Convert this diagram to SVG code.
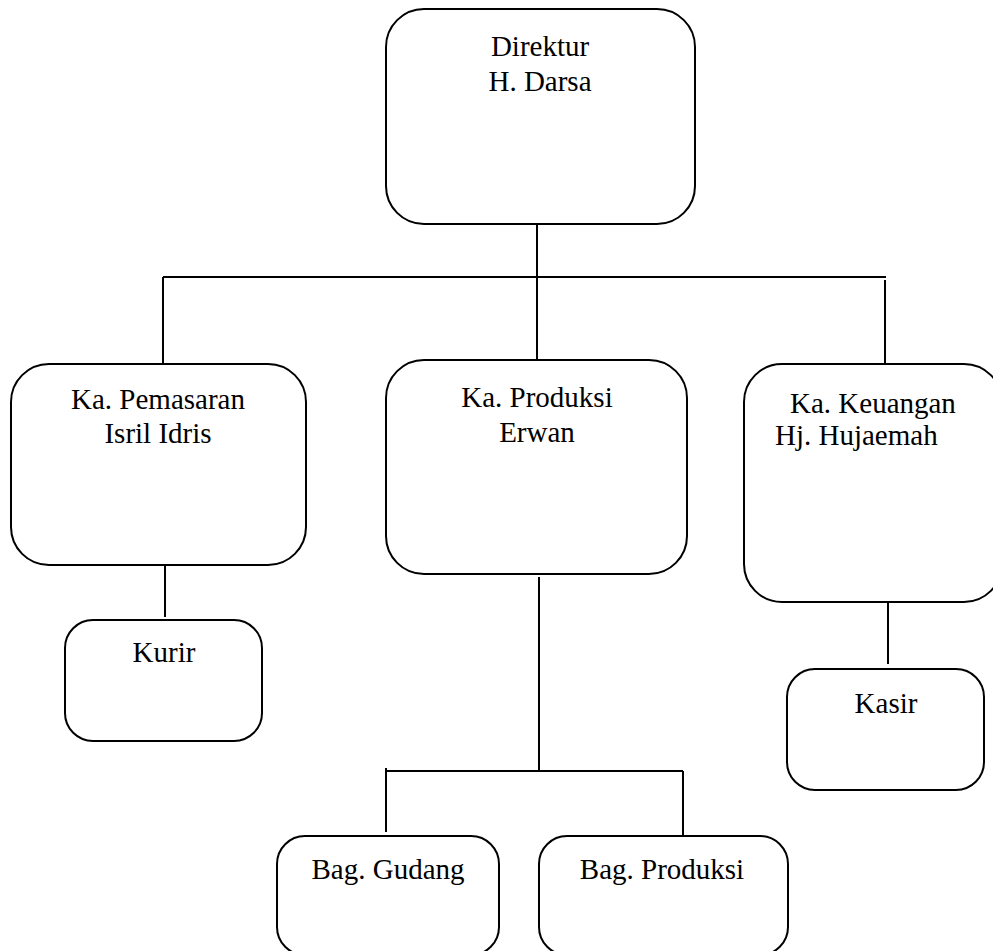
<svg xmlns="http://www.w3.org/2000/svg" width="993" height="951" viewBox="0 0 993 951">
<style>
  .box { fill: #ffffff; stroke: #000000; stroke-width: 2; }
  .lbl { font-family: "Liberation Serif", "Times New Roman", serif; font-size: 29px; fill: #000000; }
  .mid { text-anchor: middle; }
  .conn line { stroke: #000000; stroke-width: 2; }
</style>
<rect width="993" height="951" fill="#ffffff"/>
<g id="connectors" class="conn">
  <line x1="537" y1="224" x2="537" y2="365"/>
  <line x1="163" y1="277" x2="886" y2="277"/>
  <line x1="163" y1="277" x2="163" y2="364"/>
  <line x1="885" y1="280" x2="885" y2="364"/>
  <line x1="165" y1="565" x2="165" y2="617"/>
  <line x1="888" y1="602" x2="888" y2="664"/>
  <line x1="539" y1="577" x2="539" y2="771"/>
  <line x1="386" y1="771" x2="683" y2="771"/>
  <line x1="386" y1="768" x2="386" y2="832"/>
  <line x1="683" y1="771" x2="683" y2="836"/>
</g>
<g id="direktur">
  <rect class="box" x="386" y="9" width="309" height="215" rx="38" ry="38"/>
  <text class="lbl mid" x="540" y="56">Direktur</text>
  <text class="lbl mid" x="540" y="91">H. Darsa</text>
</g>
<g id="pemasaran">
  <rect class="box" x="11" y="364" width="295" height="201" rx="38" ry="38"/>
  <text class="lbl mid" x="158" y="409">Ka. Pemasaran</text>
  <text class="lbl mid" x="158" y="443">Isril Idris</text>
</g>
<g id="produksi">
  <rect class="box" x="386" y="360" width="301" height="214" rx="38" ry="38"/>
  <text class="lbl mid" x="537" y="407">Ka. Produksi</text>
  <text class="lbl mid" x="537" y="442">Erwan</text>
</g>
<g id="keuangan">
  <rect class="box" x="744" y="364" width="258" height="238" rx="38" ry="38"/>
  <text class="lbl" x="790" y="413">Ka. Keuangan</text>
  <text class="lbl" x="775" y="445">Hj. Hujaemah</text>
</g>
<g id="kurir">
  <rect class="box" x="65" y="620" width="197" height="121" rx="28" ry="28"/>
  <text class="lbl mid" x="164" y="662">Kurir</text>
</g>
<g id="kasir">
  <rect class="box" x="787" y="669" width="197" height="121" rx="28" ry="28"/>
  <text class="lbl mid" x="886" y="713">Kasir</text>
</g>
<g id="gudang">
  <rect class="box" x="277" y="836" width="222" height="119" rx="28" ry="28"/>
  <text class="lbl mid" x="388" y="879">Bag. Gudang</text>
</g>
<g id="bag-produksi">
  <rect class="box" x="539" y="836" width="249" height="119" rx="28" ry="28"/>
  <text class="lbl mid" x="662" y="879">Bag. Produksi</text>
</g>
</svg>
